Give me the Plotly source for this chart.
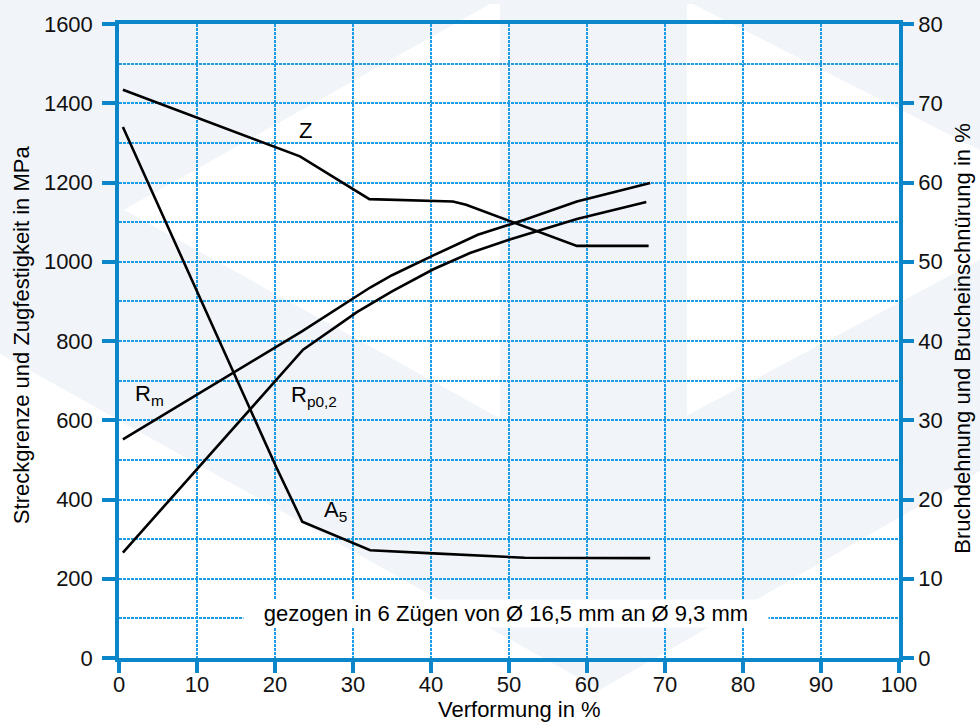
import plotly.graph_objects as go

# ---------------- data ----------------
rm_x = [0.5, 23.5, 32.2, 35.0, 40.3, 46.0, 52.0, 58.7, 68.1]
rm_y = [552, 825, 935, 966, 1016, 1068, 1106, 1152, 1199]

rp_x = [0.5, 23.6, 30.5, 35.0, 40.3, 45.0, 50.1, 55.0, 58.7, 67.6]
rp_y = [266, 778, 873, 925, 981, 1022, 1056, 1085, 1108, 1151]

z_x = [0.5, 23.2, 32.1, 42.8, 44.5, 58.7, 67.9]
z_y = [71.7, 63.3, 57.9, 57.6, 57.2, 52.0, 52.0]

a5_x = [0.5, 17.0, 20.2, 23.5, 32.2, 40.3, 47.6, 52.0, 68.1]
a5_y = [67.0, 31.0, 24.0, 17.2, 13.6, 13.2, 12.85, 12.65, 12.6]

x_ticks = [0, 10, 20, 30, 40, 50, 60, 70, 80, 90, 100]
y_left_ticks = [0, 200, 400, 600, 800, 1000, 1200, 1400, 1600]
y_right_ticks = [0, 10, 20, 30, 40, 50, 60, 70, 80]

x_title = "Verformung in %"
y_left_title = "Streckgrenze und Zugfestigkeit in MPa"
y_right_title = "Bruchdehnung und Brucheinschnürung in %"
note_text = "gezogen in 6 Zügen von Ø 16,5 mm an Ø 9,3 mm"

# ---------------- style ----------------
FONT = "Liberation Sans, Arial, Helvetica, sans-serif"
AXIS_C = "#0b86c8"
GRID_C = "#1f9be3"
LIGHT = "#f1f5fa"
W, H = 980, 722
ML, MR, MT, MB = 119, 81, 20, 64
PW, PH = W - ML - MR, H - MT - MB

def px_path(points):
    """Decorative background polygon given in pixel coords -> paper path."""
    parts = []
    for i, (px, py) in enumerate(points):
        xx = (px - ML) / PW
        yy = (H - MB - py) / PH
        parts.append(("M" if i == 0 else "L") + f"{xx:.5f},{yy:.5f}")
    return " ".join(parts) + " Z"

# white pieces of the faint watermark (page background is light)
wm_white = [
    [(124, 207), (490, 0), (500, 0), (500, 417)],
    [(687, 0), (693, 0), (980, 147), (980, 257), (687, 414)],
    [(-5, 349), (600, 690), (985, 467), (985, 727), (-5, 727)],
]

fig = go.Figure()

line_style = dict(color="black", width=2.6)
fig.add_trace(go.Scatter(x=rm_x, y=rm_y, mode="lines", line=line_style,
                         name="Rm", yaxis="y", hoverinfo="skip"))
fig.add_trace(go.Scatter(x=rp_x, y=rp_y, mode="lines", line=line_style,
                         name="Rp0,2", yaxis="y", hoverinfo="skip"))
fig.add_trace(go.Scatter(x=z_x, y=z_y, mode="lines", line=line_style,
                         name="Z", yaxis="y2", hoverinfo="skip"))
fig.add_trace(go.Scatter(x=a5_x, y=a5_y, mode="lines", line=line_style,
                         name="A5", yaxis="y2", hoverinfo="skip"))

shapes = [dict(type="path", path=px_path(p), xref="paper", yref="paper",
               fillcolor="white", line=dict(width=0), layer="below")
          for p in wm_white]

tickfont = dict(family=FONT, size=22, color="#111111")
grid_common = dict(gridcolor=GRID_C, griddash="2.5px,1.5px", gridwidth=1.5)
lbl_font = dict(family=FONT, size=22, color="black")

annotations = [
    dict(text="Z", x=22.8, y=1332, xref="x", yref="y", xanchor="left",
         yanchor="middle", showarrow=False, font=lbl_font),
    dict(text="R<sub>m</sub>", x=1.8, y=664, xref="x", yref="y", xanchor="left",
         yanchor="middle", showarrow=False, font=lbl_font),
    dict(text="R<sub>p0,2</sub>", x=21.8, y=662, xref="x", yref="y", xanchor="left",
         yanchor="middle", showarrow=False, font=lbl_font),
    dict(text="A<sub>5</sub>", x=26.0, y=371, xref="x", yref="y", xanchor="left",
         yanchor="middle", showarrow=False, font=lbl_font),
    dict(text=note_text, x=49.6, y=113, xref="x", yref="y", xanchor="center",
         yanchor="middle", showarrow=False, bgcolor="white", width=522, height=25,
         borderpad=1, font=lbl_font),
    dict(text=x_title, x=0.513, y=-0.082, xref="paper", yref="paper", xanchor="center",
         yanchor="middle", showarrow=False, font=lbl_font),
    dict(text=y_left_title, x=-0.125, y=0.51, xref="paper", yref="paper", xanchor="center",
         yanchor="middle", textangle=-90, showarrow=False, font=lbl_font),
    dict(text=y_right_title, x=1.082, y=0.505, xref="paper", yref="paper", xanchor="center",
         yanchor="middle", textangle=-90, showarrow=False, font=lbl_font),
]

fig.update_layout(
    width=W, height=H,
    margin=dict(l=ML, r=MR, t=MT, b=MB, pad=0),
    paper_bgcolor=LIGHT,
    plot_bgcolor="rgba(0,0,0,0)",
    showlegend=False,
    shapes=shapes,
    annotations=annotations,
    font=dict(family=FONT, size=22, color="black"),
    xaxis=dict(range=[0, 100], tickvals=x_ticks, ticktext=[str(v) for v in x_ticks],
               showgrid=True, **grid_common, zeroline=False,
               showline=True, linecolor=AXIS_C, linewidth=3.5, mirror=True,
               ticks="outside", ticklen=11, tickwidth=3.5, tickcolor=AXIS_C,
               ticklabelstandoff=-7, tickfont=tickfont),
    yaxis=dict(range=[0, 1600], tickvals=y_left_ticks, ticktext=[str(v) for v in y_left_ticks],
               showgrid=True, **grid_common, zeroline=False,
               minor=dict(dtick=100, tick0=0, showgrid=True, ticks="", **grid_common),
               showline=True, linecolor=AXIS_C, linewidth=3.5,
               ticks="outside", ticklen=13, tickwidth=3.5, tickcolor=AXIS_C,
               ticklabelstandoff=5, tickfont=tickfont),
    yaxis2=dict(range=[0, 80], tickvals=y_right_ticks, ticktext=[str(v) for v in y_right_ticks],
                overlaying="y", side="right", showgrid=False, zeroline=False,
                showline=True, linecolor=AXIS_C, linewidth=3.5,
                ticks="outside", ticklen=11, tickwidth=3.5, tickcolor=AXIS_C,
                tickfont=tickfont),
)

fig.write_html(
    "out.html",
    config={"displayModeBar": False},
    post_script="document.body.style.margin='0';document.body.style.padding='0';"
                "document.body.style.overflow='hidden';",
)
